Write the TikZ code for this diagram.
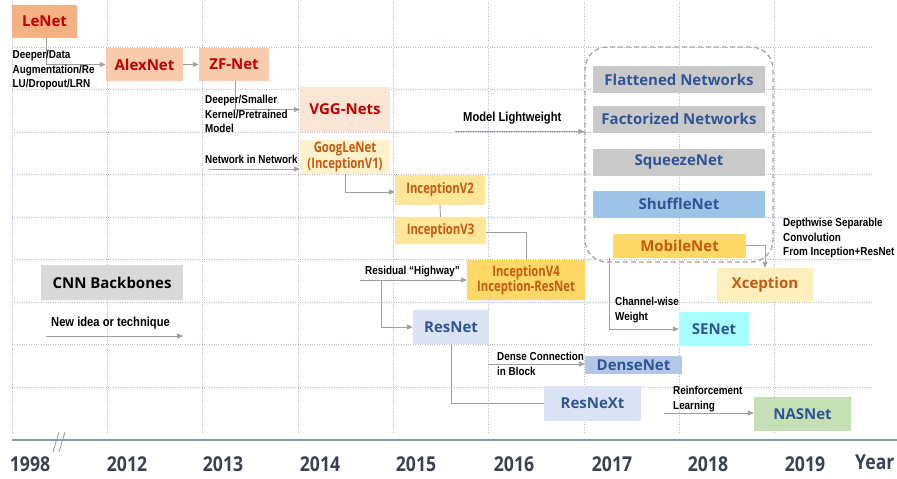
\documentclass[tikz,border=0pt]{standalone}
\usepackage{fontspec}
\setmainfont{Liberation Sans}
\newfontfamily\titlefont{Open Sans}
\newfontfamily\incfont[FakeStretch=0.78]{Open Sans}
\newfontfamily\lblfont[FakeStretch=0.86]{Liberation Sans}
\newfontfamily\yearfont[FakeStretch=0.86]{Open Sans}
\usetikzlibrary{arrows.meta}
\definecolor{cRed}{HTML}{C00000}
\definecolor{cOrange}{HTML}{C55A11}
\definecolor{cBlue}{HTML}{2F5597}
\definecolor{cLe}{HTML}{F4B183}
\definecolor{cAlex}{HTML}{F8CBAD}
\definecolor{cVgg}{HTML}{FBE5D6}
\definecolor{cGoog}{HTML}{FFF2CC}
\definecolor{cIncA}{HTML}{FFE699}
\definecolor{cIncB}{HTML}{FFD966}
\definecolor{cXcp}{HTML}{FFEFBF}
\definecolor{cRes}{HTML}{DAE3F3}
\definecolor{cDense}{HTML}{B4C7E7}
\definecolor{cGray}{HTML}{C9C9C9}
\definecolor{cLegend}{HTML}{D9D9D9}
\definecolor{cShuf}{HTML}{9DC3E6}
\definecolor{cSe}{HTML}{A8FFFF}
\definecolor{cNas}{HTML}{C5E0B4}
\definecolor{cArrow}{HTML}{A0A0A0}
\definecolor{cDash}{HTML}{A6A6A6}
\definecolor{cGrid}{HTML}{B4BED0}
\definecolor{cTime}{HTML}{8497B0}
\definecolor{cYear}{HTML}{3C4152}
\begin{document}
\begin{tikzpicture}[x=1pt,y=-1pt,
  box/.style={inner sep=0pt, align=center, font=\titlefont\bfseries\fontsize{15}{17}\selectfont},
  incbox/.style={inner sep=0pt, align=center, text=cOrange, font=\incfont\bfseries\fontsize{14.5}{15.5}\selectfont},
  conn/.style={draw=cArrow, line width=0.9pt},
  arr/.style={conn, -{Triangle[length=6pt,width=5pt]}},
  lbl/.style={inner sep=0pt, align=left, anchor=north west, font=\lblfont\bfseries\fontsize{11.5}{14.5}\selectfont},
  biglbl/.style={inner sep=0pt, align=left, anchor=north west, font=\lblfont\bfseries\fontsize{13}{14}\selectfont},
  year/.style={inner sep=0pt, text=cYear, font=\yearfont\bfseries\fontsize{20.5}{22}\selectfont},
  grid line/.style={draw=cGrid, line width=0.6pt, dash pattern=on 0.8pt off 1.6pt}
]
\useasboundingbox (0,0) rectangle (897,479);
% grid
\foreach \k in {0,...,8} {
  \draw[grid line] (12+95.3*\k,2) -- (12+95.3*\k,432);
  \draw[grid line] (12,47+42.5*\k) -- (872,47+42.5*\k);
}
% dashed group
\node[draw=cDash, line width=1.3pt, dash pattern=on 5pt off 3pt, rounded corners=22pt,
      minimum width=188pt, minimum height=215pt, inner sep=0pt] (lw) at (679,154.5) {};
% boxes
\node[box, fill=cLe, text=cRed, minimum width=65pt, minimum height=33pt] (lenet) at (44.5,21.5) {LeNet};
\node[box, fill=cAlex, text=cRed, minimum width=77pt, minimum height=33pt] (alexnet) at (144.5,64.5) {AlexNet};
\node[box, fill=cAlex, text=cRed, minimum width=70pt, minimum height=33pt] (zfnet) at (234,64.5) {ZF-Net};
\node[box, fill=cVgg, text=cRed, minimum width=90pt, minimum height=45pt] (vgg) at (345,109.5) {VGG-Nets};
\node[incbox, fill=cGoog, minimum width=90pt, minimum height=34pt] (google) at (345,157) {GoogLeNet\\(InceptionV1)};
\node[incbox, fill=cIncA, minimum width=90pt, minimum height=30pt] (incv2) at (440,190) {InceptionV2};
\node[incbox, fill=cIncA, minimum width=91pt, minimum height=27pt] (incv3) at (440.5,230.5) {InceptionV3};
\node[incbox, fill=cIncB, minimum width=118pt, minimum height=40pt] (incv4) at (526,280) {InceptionV4\\Inception-ResNet};
\node[box, fill=cRes, text=cBlue, minimum width=76pt, minimum height=34pt] (resnet) at (451,327) {ResNet};
\node[box, fill=cDense, text=cBlue, minimum width=97pt, minimum height=18pt] (densenet) at (633.5,365) {DenseNet};
\node[box, fill=cRes, text=cBlue, minimum width=97pt, minimum height=35pt] (resnext) at (592.5,403) {ResNeXt};
\node[box, fill=cGray, text=cBlue, minimum width=172pt, minimum height=27pt] (flat) at (679,79.5) {Flattened Networks};
\node[box, fill=cGray, text=cBlue, minimum width=172pt, minimum height=27pt] (fact) at (679,119) {Factorized Networks};
\node[box, fill=cGray, text=cBlue, minimum width=172pt, minimum height=27pt] (squeeze) at (679,162) {SqueezeNet};
\node[box, fill=cShuf, text=cBlue, minimum width=172pt, minimum height=27pt] (shuffle) at (679,204) {ShuffleNet};
\node[box, fill=cIncB, text=cOrange, minimum width=133pt, minimum height=24pt] (mobile) at (679.5,245.5) {MobileNet};
\node[box, fill=cXcp, text=cOrange, minimum width=96pt, minimum height=34pt] (xception) at (765,285) {Xception};
\node[box, fill=cSe, text=cBlue, minimum width=70pt, minimum height=34pt] (senet) at (714,329) {SENet};
\node[box, fill=cNas, text=cBlue, minimum width=97pt, minimum height=34pt] (nasnet) at (802.5,414) {NASNet};
\node[box, fill=cLegend, text=black, minimum width=142pt, minimum height=35pt] (cnn) at (112,282.5) {CNN Backbones};
% free ends
\coordinate (nin) at (209,169);
\coordinate (ml) at (455,131.5);
\coordinate (rh) at (360,280);
\coordinate (rb) at (381,280);
\coordinate (dc) at (488,364);
\coordinate (rl) at (664,413);
\coordinate (leg) at (46,336);
% connectors
\draw[arr] ([xshift=1.5pt]lenet.south) |- (alexnet.west);
\draw[arr] (alexnet.east) -- (zfnet.west);
\draw[arr] ([xshift=1pt]zfnet.south) |- (vgg.west);
\draw[arr] (nin) -- (nin -| google.west);
\draw[arr] (google.south) |- ([yshift=-2pt]incv2.west);
\draw[conn] (incv2.south) -- (incv3.north);
\draw[conn] ([yshift=-1.5pt]incv3.east) -| (incv4.north);
\draw[arr] (rh) -- (rh -| incv4.west);
\draw[arr] (rb) |- (resnet.west);
\draw[conn] (resnet.south) |- (resnext.west);
\draw[arr] (dc) -- (dc -| densenet.west);
\draw[arr] (ml) -- (ml -| lw.west);
\draw[arr] (mobile.east) -| (xception.north);
\draw[arr] ([xshift=-3pt]mobile.south west) |- (senet.west);
\draw[arr] (rl) -- (rl -| nasnet.west);
\draw[arr] (leg) -- (leg -| cnn.east);
% labels
\node[lbl] (l1) at (12.5,50) {Deeper/Data\\Augmentation/Re\\LU/Dropout/LRN};
\node[lbl] (l2) at (205,95) {Deeper/Smaller\\Kernel/Pretrained\\Model};
\node[lbl] (l3) at (205,155) {Network in Network};
\node[biglbl] (l4) at (463,112) {Model Lightweight};
\node[lbl] (l5) at (365,266) {Residual “Highway”};
\node[lbl] (l6) at (497,352) {Dense Connection\\in Block};
\node[lbl] (l7) at (615,297) {Channel-wise\\Weight};
\node[lbl] (l8) at (783,218) {Depthwise Separable\\Convolution\\From Inception+ResNet};
\node[lbl] (l9) at (673,386) {Reinforcement\\Learning};
\node[biglbl] (l10) at (51,317) {New idea or technique};
% timeline
\draw[cTime, line width=1.5pt] (12,440) -- (897,440);
\draw[cTime, line width=0.8pt] (53,452) -- (59,432) (59,452) -- (65,432);
\foreach \yr/\xx in {1998/30, 2012/127, 2013/223, 2014/320, 2015/416, 2016/514, 2017/612, 2018/708, 2019/805} {
  \node[year] (y\yr) at (\xx,464.5) {\yr};
}
\node[year, anchor=west] (yr) at (855,462.5) {Year};
\end{tikzpicture}
\end{document}
